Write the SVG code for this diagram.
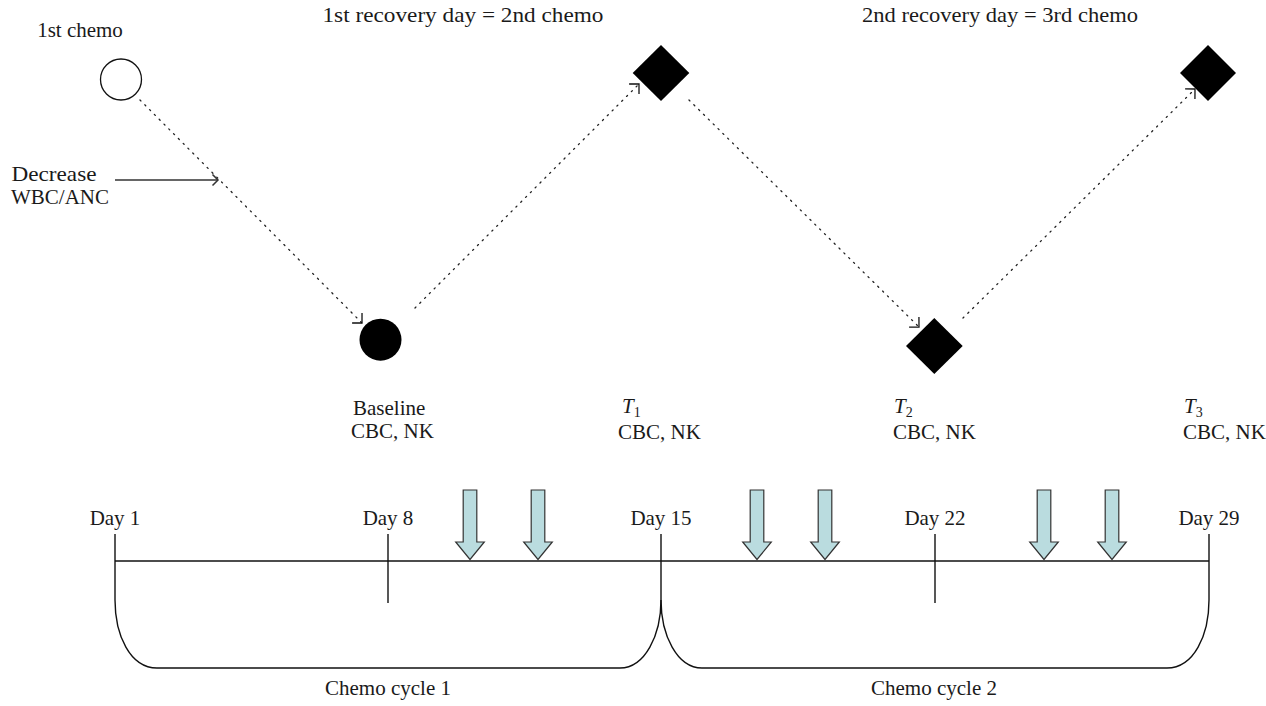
<svg xmlns="http://www.w3.org/2000/svg" xmlns:xlink="http://www.w3.org/1999/xlink" width="1266" height="706" viewBox="0 0 1266 706">
<style>
  text { font-family: "Liberation Serif", "Times New Roman", serif; font-size: 21px; fill: #1a1a1a; }
  .mid { text-anchor: middle; }
  .it { font-style: italic; }
  .sub { font-size: 14px; font-style: normal; }
  .dot { fill: none; stroke: #222; stroke-width: 1.3; stroke-dasharray: 1.3 5.5; stroke-linecap: round; marker-end: url(#chev); }
  .line { fill: none; stroke: #111; stroke-width: 1.4; }
  .block { fill: #badcdf; stroke: #333; stroke-width: 1.2; stroke-linejoin: miter; }
</style>
<defs>
  <marker id="chev" markerUnits="userSpaceOnUse" markerWidth="20" markerHeight="20" refX="0" refY="0" viewBox="-10 -10 20 20" orient="auto" overflow="visible">
    <path d="M-7,-7 L0,0 L-7,7" fill="none" stroke="#111" stroke-width="1.3"/>
  </marker>
  <marker id="chevs" markerUnits="userSpaceOnUse" markerWidth="20" markerHeight="20" refX="0" refY="0" viewBox="-10 -10 20 20" orient="auto" overflow="visible">
    <path d="M-5.5,-5.5 L0,0 L-5.5,5.5" fill="none" stroke="#333" stroke-width="1.5"/>
  </marker>
  <path id="blk" class="block" d="M-6.8,490 L6.8,490 L6.8,542 L14.3,542 L0,559.5 L-14.3,542 L-6.8,542 Z"/>
</defs>
<rect width="1266" height="706" fill="#ffffff"/>

<g id="labels-top">
  <text x="80" y="37" class="mid">1st chemo</text>
  <text x="463" y="22" class="mid" textLength="281" lengthAdjust="spacingAndGlyphs">1st recovery day = 2nd chemo</text>
  <text x="1000" y="22" class="mid" textLength="276" lengthAdjust="spacingAndGlyphs">2nd recovery day = 3rd chemo</text>
  <text x="54" y="181" class="mid" textLength="85" lengthAdjust="spacingAndGlyphs">Decrease</text>
  <text x="60" y="204" class="mid">WBC/ANC</text>
</g>

<g id="connectors">
  <line class="dot" x1="140" y1="100" x2="362" y2="323"/>
  <line class="dot" x1="415" y1="308" x2="639" y2="84"/>
  <line class="dot" x1="689" y1="100" x2="919" y2="327"/>
  <line class="dot" x1="963" y1="318" x2="1195" y2="89"/>
  <line x1="115" y1="180" x2="218" y2="180" stroke="#333" stroke-width="1.6" marker-end="url(#chevs)"/>
</g>

<g id="node-1st-chemo"><circle cx="121" cy="79.5" r="20.5" fill="#fff" stroke="#111" stroke-width="1.3"/></g>
<g id="node-baseline"><circle cx="380.5" cy="339.7" r="21" fill="#000"/></g>
<g id="node-t1"><polygon points="661,45 689.3,73 661,101 632.7,73" fill="#000"/></g>
<g id="node-t2"><polygon points="934.3,318 962.7,346 934.3,374 906,346" fill="#000"/></g>
<g id="node-t3"><polygon points="1208,45 1236,73 1208,101 1180,73" fill="#000"/></g>

<g id="labels-measure">
  <text x="353" y="415">Baseline</text>
  <text x="351" y="438">CBC, NK</text>
  <text x="622" y="413" class="it">T<tspan class="sub" dy="4">1</tspan></text>
  <text x="618" y="439">CBC, NK</text>
  <text x="894" y="413" class="it">T<tspan class="sub" dy="4">2</tspan></text>
  <text x="893" y="439">CBC, NK</text>
  <text x="1184" y="413" class="it">T<tspan class="sub" dy="4">3</tspan></text>
  <text x="1183" y="439">CBC, NK</text>
</g>

<g id="timeline">
  <line class="line" x1="115" y1="561" x2="1209" y2="561"/>
  <line class="line" x1="388" y1="534" x2="388" y2="603"/>
  <line class="line" x1="935" y1="534" x2="935" y2="603"/>
  <path class="line" d="M115,534 L115,600 C115,635 130,668 157,668 L620,668 C645,668 661,635 661,600 L661,534"/>
  <path class="line" d="M661,600 C661,635 677,668 702,668 L1167,668 C1194,668 1209,635 1209,600 L1209,534"/>
  <text x="115" y="525" class="mid">Day 1</text>
  <text x="388" y="525" class="mid">Day 8</text>
  <text x="661" y="525" class="mid">Day 15</text>
  <text x="935" y="525" class="mid">Day 22</text>
  <text x="1209" y="525" class="mid">Day 29</text>
  <text x="388" y="695" class="mid">Chemo cycle 1</text>
  <text x="934" y="695" class="mid">Chemo cycle 2</text>
</g>

<g id="doses">
  <use xlink:href="#blk" x="470"/>
  <use xlink:href="#blk" x="538"/>
  <use xlink:href="#blk" x="757"/>
  <use xlink:href="#blk" x="825"/>
  <use xlink:href="#blk" x="1044"/>
  <use xlink:href="#blk" x="1112"/>
</g>
</svg>
